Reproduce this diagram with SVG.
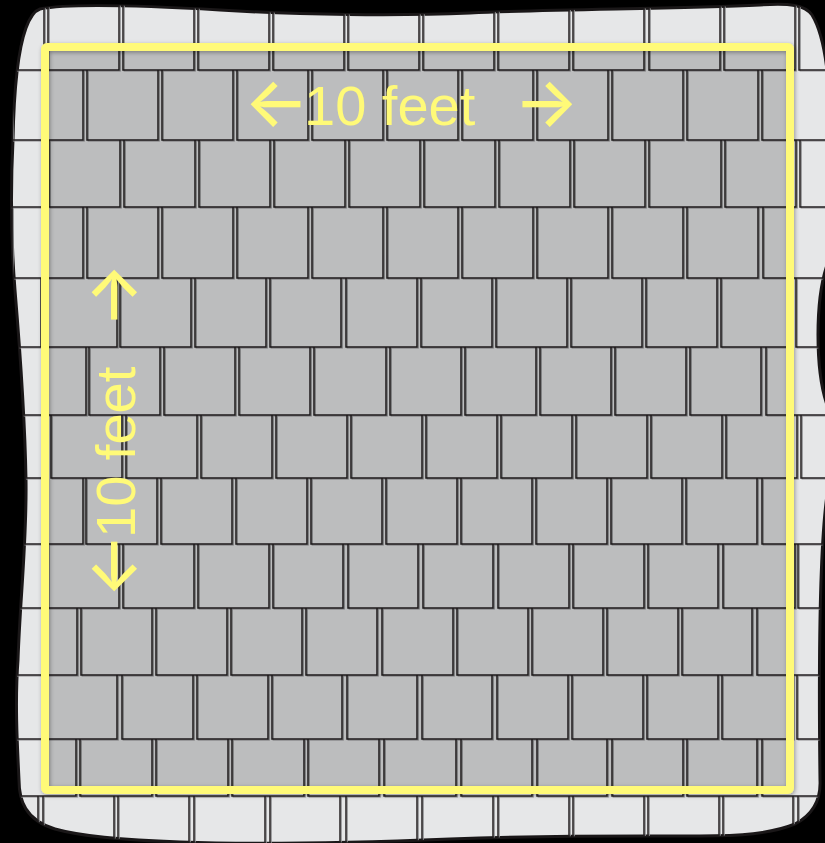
<svg xmlns="http://www.w3.org/2000/svg" xmlns:xlink="http://www.w3.org/1999/xlink" width="825" height="843" viewBox="0 0 825 843">
<style>
.panel{fill:#e6e7e8;stroke:#1a1718;stroke-width:3}
.tshadow{fill:none;stroke:#8d8e90;stroke-width:1.2}
.tline{fill:none;stroke:#231f20;stroke-width:1.5}
.ybox{fill:none;stroke:#fffa78;stroke-width:8;stroke-linejoin:round}
.shade{fill:#000;fill-opacity:0.18}
.lbl{font-family:"Liberation Sans",Arial,Helvetica,sans-serif;font-size:56px;fill:#fffa78}
.arr{font-family:Inter,"DejaVu Sans",sans-serif;font-size:68px;font-weight:500}
</style>
<defs>
<path id="panelPath" d="M40,9 C70,3 150,6 220,10 C300,15 400,16 470,13 C560,9 680,9 760,5 C790,3 805,5 812,15 C820,28 824,45 827,70 L827,265 C815,300 815,370 827,405 L827,495 C818,560 819,700 820,780 C821,800 812,815 795,824 C770,834 740,836 700,836 C620,836 560,835 450,839 C350,843 260,845 180,842 C120,840 80,836 55,829 C25,820 19,800 19,780 C17,740 15,700 18,660 C20,600 27,540 26,480 C25,420 20,350 15,290 C11,240 11,180 13,140 C14,90 18,50 26,28 C30,17 34,11 40,9 Z"/>
<clipPath id="panelClip"><use xlink:href="#panelPath"/></clipPath>
<filter id="ysh" x="-5%" y="-5%" width="110%" height="110%">
<feDropShadow dx="1" dy="1.5" stdDeviation="2" flood-color="#000" flood-opacity="0.35"/>
</filter>
<g id="tiles">
<path d="M-27,0V70H44V0M48,0V70H119V0M123,0V70H194V0M198,0V70H269V0M273,0V70H344V0M348,0V70H419V0M423,0V70H494V0M498,0V70H569V0M573,0V70H644V0M649,0V70H720V0M724,0V70H795V0M799,0V70H870V0"/>
<path d="M-63,70V140H8V70M12,70V140H83V70M87,70V140H158V70M162,70V140H233V70M237,70V140H308V70M312,70V140H383V70M387,70V140H458V70M462,70V140H533V70M537,70V140H608V70M612,70V140H683V70M687,70V140H758V70M762,70V140H833V70"/>
<path d="M-26,140V207H45V140M49,140V207H120V140M124,140V207H195V140M199,140V207H270V140M274,140V207H345V140M349,140V207H420V140M424,140V207H495V140M499,140V207H570V140M574,140V207H645V140M649,140V207H721V140M725,140V207H796V140M800,140V207H871V140"/>
<path d="M-63,207V278H8V207M12,207V278H83V207M87,207V278H158V207M162,207V278H233V207M237,207V278H308V207M312,207V278H383V207M387,207V278H458V207M462,207V278H533V207M537,207V278H608V207M612,207V278H683V207M687,207V278H758V207M763,207V278H834V207"/>
<path d="M-30,278V347H41V278M45,278V347H117V278M120,278V347H191V278M195,278V347H266V278M270,278V347H341V278M346,278V347H417V278M421,278V347H492V278M496,278V347H567V278M571,278V347H642V278M646,278V347H717V278M721,278V347H792V278M796,278V347H867V278"/>
<path d="M-61,347V415H10V347M14,347V415H86V347M89,347V415H160V347M164,347V415H235V347M239,347V415H310V347M314,347V415H386V347M390,347V415H461V347M465,347V415H536V347M540,347V415H611V347M615,347V415H686V347M690,347V415H761V347M766,347V415H837V347"/>
<path d="M-24,415V478H47V415M51,415V478H122V415M126,415V478H197V415M201,415V478H272V415M276,415V478H347V415M351,415V478H422V415M426,415V478H497V415M501,415V478H572V415M576,415V478H647V415M651,415V478H722V415M726,415V478H797V415M801,415V478H872V415"/>
<path d="M-64,478V544H7V478M11,478V544H83V478M86,478V544H157V478M161,478V544H232V478M236,478V544H307V478M311,478V544H382V478M386,478V544H457V478M461,478V544H532V478M536,478V544H607V478M611,478V544H682V478M686,478V544H757V478M762,478V544H833V478"/>
<path d="M-27,544V608H44V544M48,544V608H119V544M123,544V608H194V544M198,544V608H269V544M273,544V608H343V544M348,544V608H418V544M423,544V608H493V544M498,544V608H569V544M573,544V608H644V544M648,544V608H718V544M723,544V608H795V544M798,544V608H869V544"/>
<path d="M-69,608V675H2V608M6,608V675H77V608M81,608V675H152V608M156,608V675H227V608M231,608V675H302V608M306,608V675H377V608M382,608V675H453V608M457,608V675H528V608M532,608V675H603V608M607,608V675H678V608M682,608V675H752V608M757,608V675H828V608"/>
<path d="M-28,675V739H43V675M47,675V739H117V675M122,675V739H193V675M197,675V739H268V675M272,675V739H342V675M347,675V739H417V675M422,675V739H492V675M497,675V739H568V675M572,675V739H643V675M647,675V739H718V675M722,675V739H793V675M797,675V739H868V675"/>
<path d="M-72,739V796H0V739M4,739V796H76V739M80,739V796H152V739M156,739V796H228V739M232,739V796H304V739M308,739V796H379V739M384,739V796H456V739M461,739V796H532V739M537,739V796H607V739M612,739V796H683V739M687,739V796H757V739M762,739V796H833V739"/>
<path d="M-32,796V870H38V796M43,796V870H114V796M118,796V870H189V796M194,796V870H265V796M270,796V870H340V796M346,796V870H417V796M422,796V870H493V796M498,796V870H569V796M573,796V870H644V796M648,796V870H719V796M723,796V870H793V796M798,796V870H869V796"/>
</g>
</defs>
<rect x="0" y="0" width="825" height="843" fill="#000"/>
<use id="panel" xlink:href="#panelPath" class="panel"/>
<g id="shingles" clip-path="url(#panelClip)">
<use xlink:href="#tiles" class="tshadow" transform="translate(1.2,1)"/>
<use xlink:href="#tiles" class="tline"/>
</g>
<g id="area">
<rect class="shade" x="45" y="47" width="745" height="743"/>
<rect class="ybox" x="45" y="47" width="745" height="743" rx="2" filter="url(#ysh)"/>
</g>
<g id="label-top">
<text class="lbl" y="125"><tspan class="arr" x="244" y="126">←</tspan><tspan x="304" y="125">10 feet</tspan><tspan class="arr" x="514" y="126">→</tspan></text>
</g>
<g id="label-side" transform="translate(10,842) rotate(-90)">
<text class="lbl" y="125"><tspan class="arr" x="244" y="126">←</tspan><tspan x="304" y="125">10 feet</tspan><tspan class="arr" x="514" y="126">→</tspan></text>
</g>
</svg>
